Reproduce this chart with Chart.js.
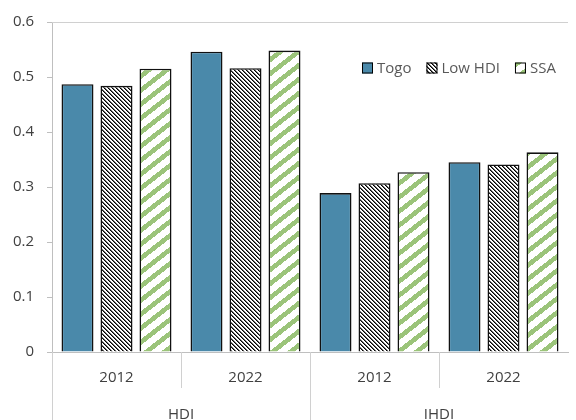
<!DOCTYPE html>
<html>
<head>
<meta charset="utf-8">
<script src="https://cdn.jsdelivr.net/npm/chart.js@4"></script>
<style>
  html, body { margin: 0; padding: 0; background: #fff; }
  #wrap { width: 576px; height: 420px; }
</style>
</head>
<body>
<div id="wrap"><canvas id="chart" width="576" height="420"></canvas></div>
<script>
// datos
const years = ['2012', '2022', '2012', '2022'];
const groups = ['HDI', 'IHDI'];
const seriesNames = ['Togo', 'Low HDI', 'SSA'];
const togo = [0.487, 0.546, 0.289, 0.345];
const lowHdi = [0.484, 0.516, 0.307, 0.341];
const ssa = [0.515, 0.548, 0.327, 0.363];
const yMax = 0.6;
const yStep = 0.1;

const FONT = '"Open Sans", "Noto Sans", sans-serif';

// patrones de relleno
function hatch(w, h, pick) {
    const c = document.createElement('canvas');
    c.width = w; c.height = h;
    const g = c.getContext('2d');
    g.fillStyle = '#ffffff';
    g.fillRect(0, 0, w, h);
    for (let x = 0; x < w; x++) {
        for (let y = 0; y < h; y++) {
            const col = pick(x, y);
            if (col) { g.fillStyle = col; g.fillRect(x, y, 1, 1); }
        }
    }
    return g.createPattern(c, 'repeat');
}
const ctx = document.getElementById('chart').getContext('2d');
const blackHatch = hatch(4, 4, (x, y) => {
    const k = (x - y + 8) % 4;
    return k === 0 ? '#000000' : (k === 1 ? '#666666' : null);
});
const greenHatch = hatch(18, 14, (x, y) => {
    const f = (x / 18 + y / 14) % 1;
    return f < 0.42 ? '#9bc47a' : null;
});
const fills = ['#4a89aa', blackHatch, greenHatch];

// ejes agrupados y leyenda
const extras = {
    id: 'extras',
    afterDraw(chart) {
        const c = chart.ctx;
        const a = chart.chartArea;
        const x = chart.scales.x;
        const line = '#d0d0d0';
        c.save();
        // borde superior
        c.strokeStyle = line;
        c.lineWidth = 1;
        c.beginPath();
        c.moveTo(a.left, a.top + 0.5);
        c.lineTo(a.right, a.top + 0.5);
        c.stroke();

        const mid = i => (x.getPixelForValue(i) + x.getPixelForValue(i + 1)) / 2;
        c.beginPath();
        // separadores largos
        [a.left, mid(1)].forEach(px => {
            const p = Math.round(px) + 0.5;
            c.moveTo(p, a.bottom);
            c.lineTo(p, chart.height);
        });
        // separadores cortos
        [mid(0), mid(2)].forEach(px => {
            const p = Math.round(px) + 0.5;
            c.moveTo(p, a.bottom);
            c.lineTo(p, a.bottom + 36);
        });
        c.stroke();

        // etiquetas de grupo
        c.fillStyle = '#404040';
        c.font = '15px ' + FONT;
        c.textAlign = 'center';
        c.textBaseline = 'middle';
        groups.forEach((g, i) => {
            const cx = (x.getPixelForValue(i * 2) + x.getPixelForValue(i * 2 + 1)) / 2;
            c.fillText(g, cx, a.bottom + 63);
        });

        // leyenda
        let lx = 362;
        const ly = 68;
        c.textAlign = 'left';
        seriesNames.forEach((name, i) => {
            c.fillStyle = fills[i];
            c.fillRect(lx, ly - 5.5, 11, 11);
            c.strokeStyle = '#000000';
            c.strokeRect(lx + 0.5, ly - 5, 10, 10);
            c.fillStyle = '#595959';
            c.fillText(name, lx + 15, ly + 1);
            lx += 15 + c.measureText(name).width + 15;
        });
        c.restore();
    }
};

const datasets = [togo, lowHdi, ssa].map((d, i) => ({
    label: seriesNames[i],
    data: d,
    backgroundColor: fills[i],
    borderColor: '#111111',
    borderWidth: 1.6,
    borderSkipped: 'start',
    categoryPercentage: 0.907,
    barPercentage: 0.82
}));

new Chart(ctx, {
    type: 'bar',
    data: { labels: years, datasets: datasets },
    plugins: [extras],
    options: {
        responsive: false,
        animation: false,
        layout: { padding: { top: 20, right: 8, left: 0, bottom: 0 } },
        plugins: {
            legend: { display: false },
            tooltip: { enabled: false }
        },
        scales: {
            x: {
                grid: { display: false },
                border: { color: '#bfbfbf' },
                ticks: {
                    color: '#404040',
                    font: { family: FONT, size: 15 },
                    padding: 9,
                    maxRotation: 0
                },
                afterFit(scale) { scale.height = 68; }
            },
            y: {
                min: 0,
                max: yMax,
                grid: {
                    drawOnChartArea: false,
                    tickLength: 5,
                    color: '#bfbfbf'
                },
                border: { color: '#bfbfbf' },
                ticks: {
                    stepSize: yStep,
                    color: '#404040',
                    font: { family: FONT, size: 15 },
                    padding: 13
                },
                afterFit(scale) { scale.width = 52; }
            }
        }
    }
});
</script>
</body>
</html>
